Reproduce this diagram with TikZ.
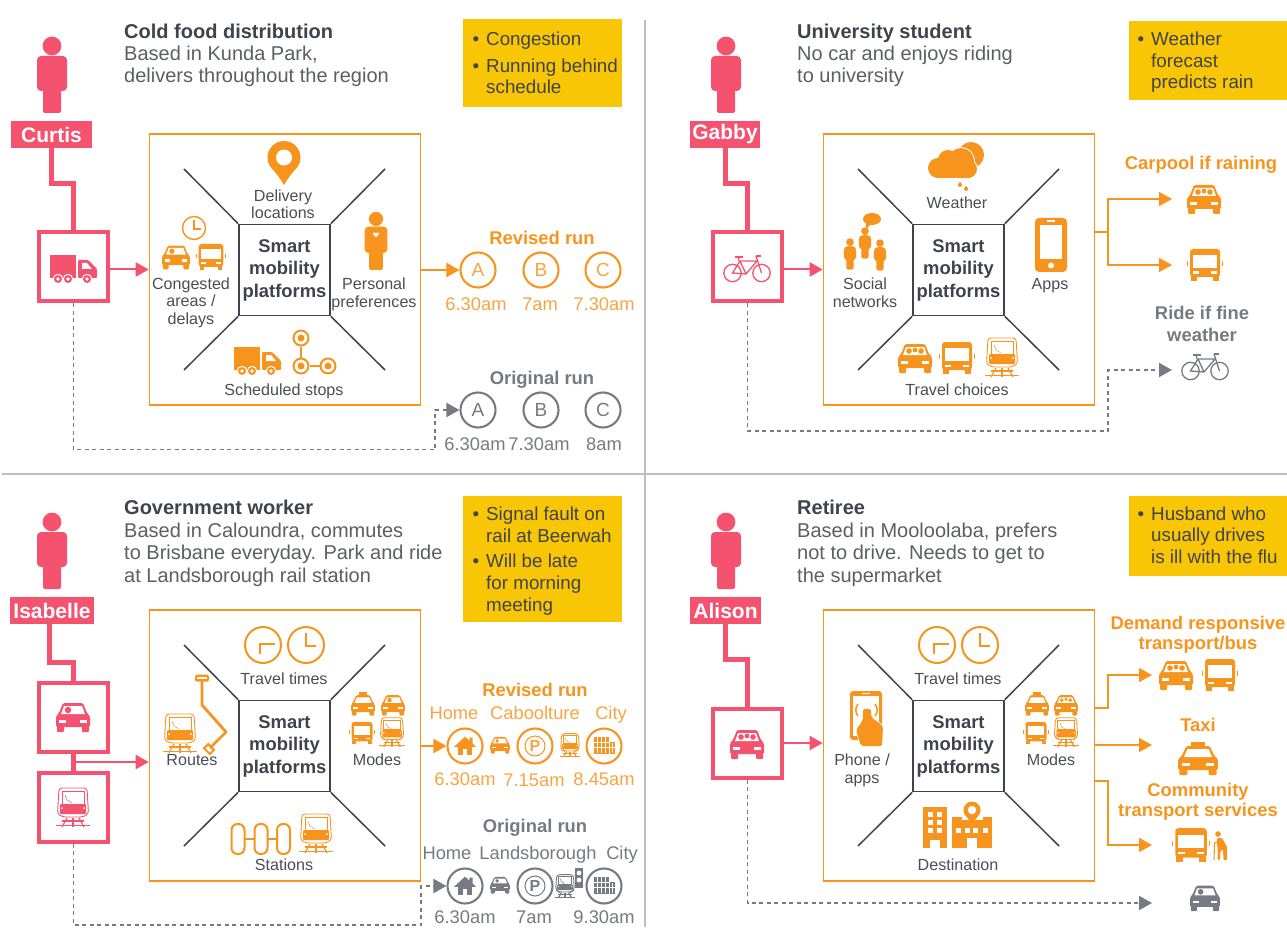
\documentclass[tikz,border=0pt]{standalone}
\usepackage{fontspec}
\setmainfont{Liberation Sans}
\usetikzlibrary{arrows.meta}
\definecolor{pk}{HTML}{F4526E}
\definecolor{orn}{HTML}{F7941E}
\definecolor{gy}{HTML}{777983}
\definecolor{dk}{HTML}{40434E}
\definecolor{bodyc}{HTML}{5C5E66}
\definecolor{labc}{HTML}{4B4D55}
\definecolor{yl}{HTML}{F9C606}
\definecolor{dv}{HTML}{BCBEC3}
\newcommand\fzA{\fontsize{20}{22.4}\selectfont}
\newcommand\fzL{\fontsize{16.1}{17.2}\selectfont}
\newcommand\fzH{\fontsize{18.4}{22.5}\selectfont\bfseries}
\newcommand\fzT{\fontsize{18.3}{21}\selectfont}
\newcommand\fzY{\fontsize{18.8}{21.6}\selectfont}
\newcommand\fzR{\fontsize{18.4}{21}\selectfont\bfseries}
\newcommand\carbase{%
  \fill[rounded corners=1.5pt] (-10,-14)--(10,-14)--(14,-4)--(17,-1)--(17,10)--(-17,10)--(-17,-1)--(-14,-4)--cycle;
  \fill[rounded corners=1pt] (-16,9) rectangle (-9,15);
  \fill[rounded corners=1pt] (9,9) rectangle (16,15);
  \fill[white] (-9,-11)--(9,-11)--(12,-3)--(-12,-3)--cycle;
  \fill[white] (-14,3) rectangle (-7,6);
  \fill[white] (7,3) rectangle (14,6);}
\tikzset{
  every picture/.style={line join=miter},
  person/.pic={
    \fill (0,-29) circle (9.4);
    \fill[rounded corners=4pt] (-15,-19) rectangle (15,16);
    \fill[rounded corners=2pt] (-9,5) rectangle (9,38);},
  car/.pic={\carbase \fill (-5,-7) circle (3.2);},
  carpool/.pic={\carbase \fill (-6,-7) circle (2.8); \fill (0,-8) circle (2.4); \fill (6,-7) circle (2.8);},
  taxi/.pic={
    \fill (-6,-18) rectangle (6,-14);
    \carbase},
  bus/.pic={
    \fill[rounded corners=3pt] (-15,-16) rectangle (15,12);
    \fill (-14,11) rectangle (-8,16);
    \fill (8,11) rectangle (14,16);
    \fill[white] (-12,-10) rectangle (12,3);
    \fill[white] (-12,6.5) rectangle (-6,9);
    \fill[white] (6,6.5) rectangle (12,9);
    \fill (-18,-4) rectangle (-17,1);
    \fill (17,-4) rectangle (18,1);},
  train/.pic={
    \draw[line width=.9pt,rounded corners=3pt] (-14,-19) -- (14,-19) -- (15.5,7) -- (10,10) -- (-10,10) -- (-15.5,7) -- cycle;
    \draw[line width=.6pt] (-11,-16) rectangle (11,-3);
    \draw[line width=.5pt] (-8,-12) -- (-6,-7) -- (-1,-4);
    \fill[rounded corners=1pt] (-13,-3) rectangle (13,7);
    \fill[white] (-11,1) circle (1);
    \fill[white] (11,1) circle (1);
    \draw[line width=1.2pt] (-11,14) -- (11,14);
    \draw[line width=1.2pt] (-17,18.5) -- (17,18.5);
    \draw[line width=1.2pt] (-6,11) -- (-11,20);
    \draw[line width=1.2pt] (6,11) -- (11,20);
    \draw[line width=1.2pt] (0,11) -- (0,20);},
  truck/.pic={
    \fill (-23,-13) rectangle (3,10);
    \fill[rounded corners=1pt] (5,-8) -- (15,-8) -- (24,1) -- (24,10) -- (5,10) -- cycle;
    \fill[white] (9,-5) -- (14,-5) -- (19,1) -- (9,1) -- cycle;
    \foreach \wx in {-15,-5,14}{
      \fill[white] (\wx,11) circle (5.2);
      \fill (\wx,11) circle (4);
      \fill[white] (\wx,11) circle (1.8);}},
  bike/.pic={
    \begin{scope}[line width=1.3pt]
    \draw (-14.5,4) circle (8.7);
    \draw (14.5,4) circle (8.7);
    \draw (-14.5,4) -- (-7,-8) -- (10,-8) -- (-1,5) -- cycle;
    \draw (-7,-8) -- (-1,5);
    \draw (9,-13) -- (14.5,4);
    \draw (9,-13) -- (14,-13);
    \draw (-8,-8) -- (-9,-12);
    \draw[line width=1.7pt] (-12,-12) -- (-4,-12);
    \end{scope}},
  clocka/.pic={
    \draw[line width=2pt] (0,0) circle (18);
    \draw[line width=2pt] (-3,9) -- (-3,-1) -- (12,-1);},
  clockb/.pic={
    \draw[line width=2pt] (0,0) circle (18);
    \draw[line width=2pt] (0,-12) -- (0,1) -- (10,1);},
  clocksm/.pic={
    \draw[line width=1.4pt] (0,0) circle (11.5);
    \draw[line width=1.4pt] (0,-8) -- (0,1) -- (7,1);},
  pin/.pic={
    \fill (0,-6.5) circle (16.5);
    \fill (0,21) .. controls (-5,12) and (-14,3) .. (-16,-3) -- (16,-3) .. controls (14,3) and (5,12) .. (0,21);
    \fill[white] (0,-6.5) circle (8);},
  cloud/.pic={
    \fill (16,-10) circle (13);
    \begin{scope}[white,line width=2pt]
    \draw (-7,-5) circle (10); \draw (6,-4) circle (13); \draw (13,4) circle (9);
    \end{scope}
    \fill (-17,3) circle (10);
    \fill (-7,-5) circle (10);
    \fill (6,-4) circle (13);
    \fill (13,4) circle (9);
    \fill (-17,3) rectangle (15,13);
    \fill (5,20) circle (2); \fill (5,16.5) -- (3.2,19.5) -- (6.8,19.5) -- cycle;
    \fill (11,24) circle (2); \fill (11,20.5) -- (9.2,23.5) -- (12.8,23.5) -- cycle;},
  phone/.pic={
    \fill[rounded corners=4pt] (-16,-27) rectangle (16,27);
    \fill[white] (-11,-20) rectangle (11,14);
    \fill[white] (-4,-24.5) rectangle (4,-23.2);
    \fill[white] (0,20.5) circle (3);},
  social/.pic={
    \pic[scale=.41] at (-15,11) {person};
    \pic[scale=.41] at (0,0) {person};
    \pic[scale=.41] at (15,12) {person};
    \fill (7,-24) ellipse (9 and 6);
    \fill (1,-22) -- (1,-14) -- (7,-20) -- cycle;},
  handphone/.pic={
    \fill[rounded corners=3pt] (-16,-27) rectangle (16,22);
    \fill[white] (-13,-22) rectangle (13,18);
    \fill[white] (-4,-25) rectangle (4,-24);
    \draw[line width=1.5pt] (-8,-14) .. controls (-11,-10) and (-11,-6) .. (-8,-2);
    \draw[line width=1.5pt] (9,-14) .. controls (12,-10) and (12,-6) .. (9,-2);
    \draw[white,line width=1.4pt,rounded corners=2pt] (-3,-9) -- (-3,2) -- (-10,12) -- (-5,28) -- (16,28) -- (17,8) -- (5,-1) -- (5,-9) -- cycle;
    \fill[rounded corners=2pt] (-3,-9) -- (-3,2) -- (-10,12) -- (-5,28) -- (16,28) -- (17,8) -- (5,-1) -- (5,-9) -- cycle;},
  home/.pic={
    \fill (-13,1) -- (0,-11) -- (5,-6.5) -- (5,-10) -- (9,-10) -- (9,-3) -- (13,1) -- cycle;
    \fill (-8.5,0) rectangle (8.5,11);
    \fill[white] (-2.5,4) rectangle (2.5,11);},
  city/.pic={
    \fill (-12,-10) rectangle (6,11);
    \fill (7,-4) rectangle (13,11);
    \foreach \wx in {-8,-3,2}{\draw[white,line width=.8pt] (\wx,-10) -- (\wx,9);}
    \foreach \wy in {-3,3}{\draw[white,line width=.8pt] (-12,\wy) -- (6,\wy);}
    \draw[white,line width=.8pt] (10,-2) -- (10,9);
    \draw[white,line width=.8pt] (7,3) -- (13,3);},
  pilltrio/.pic={
    \begin{scope}[line width=2pt]
    \draw[rounded corners=6pt] (-14.5,-15) rectangle (-1.5,15);
    \draw[rounded corners=6pt] (8.5,-15) rectangle (21.5,15);
    \draw[rounded corners=6pt] (31,-15) rectangle (44,15);
    \draw (-1.5,0) -- (8.5,0);
    \draw (21.5,0) -- (31,0);
    \end{scope}},
  route/.pic={
    \draw[line width=2.8pt,line join=round] (0,0) -- (0,27) -- (24,54) -- (8,70);
    \fill[rounded corners=1.5pt] (-7,-3.5) rectangle (7,3.5);
    \fill[white] (-5,-1.5) rectangle (5,.8);
    \draw[line width=2pt,rotate around={-45:(7,71)}] (3,68) rectangle (11,74);},
  tower/.pic={
    \fill (-18,-16) rectangle (6,25);
    \foreach \wx in {-13.3,-4}{\foreach \wy in {-11,-3,5}{\fill[white] (\wx,\wy) rectangle +(5,5);}}
    \fill[white] (-11,17) rectangle (-1,25);
    \fill (11,-6) rectangle (51,25);
    \foreach \wx in {15,24,32,42}{\fill[white] (\wx,5) rectangle +(4.6,5);}
    \fill[white] (26,15) rectangle (36,25);
    \fill[white] (31,-13) circle (10.5);
    \fill[white] (20.5,-13) rectangle (41.5,-3);
    \fill (31,1) .. controls (29,-3) and (22.5,-8) .. (22.5,-13) -- (39.5,-13) .. controls (39.5,-8) and (33,-3) .. (31,1);
    \fill (31,-13) circle (8.5);
    \fill[white] (31,-13) circle (4.2);},
  oldman/.pic={
    \fill (0,-12) circle (2.8);
    \fill[rounded corners=1pt] (-1,-8) -- (4,-8) -- (9,1) -- (9,14) -- (5.5,14) -- (5,3) -- (2,6) -- (2,14) -- (-.5,14) -- (-.5,1) -- (-1,-2) -- cycle;
    \draw[line width=1.1pt] (-3.5,-3) -- (1,-5);
    \draw[line width=1.1pt] (-3.5,-3) -- (-4,14);},
  light/.pic={
    \fill (-4,-10) rectangle (4,10);
    \fill[white] (0,-5) circle (2.4);
    \fill[white] (0,2) circle (2.4);},
  hubbox/.style={draw=orn,line width=1.6pt,minimum size=271pt,inner sep=0},
  hubcore/.style={draw=dk,line width=1.6pt,minimum size=91pt,inner sep=0,align=center,font=\fzH,text=dk},
  spoke/.style={draw=dk,line width=1.5pt},
  tag/.style={fill=pk,text=white,font=\fontsize{21}{24}\selectfont\bfseries,inner sep=0,minimum height=27pt},
  modebox/.style={draw=pk,line width=4pt,minimum size=69pt,inner sep=0},
  link/.style={draw=pk,line width=5pt},
  pkarrow/.style={draw=pk,line width=2pt,-{Triangle[length=13pt,width=14pt]}},
  orarrow/.style={draw=orn,line width=1.7pt,-{Triangle[length=13pt,width=14pt]}},
  grarrow/.style={draw=gy,line width=1.9pt,dash pattern=on 4pt off 3.5pt,-{Triangle[length=13pt,width=14pt]}},
  headblock/.style={anchor=base west,inner sep=0,align=left,font=\fzA,text=bodyc},
  lab/.style={anchor=base,inner sep=0,align=center,font=\fzL,text=labc},
  note/.style={fill=yl,inner sep=0,anchor=north west},
  notetext/.style={anchor=base west,inner sep=0,align=left,font=\fzY,text=dk,yshift=-1pt},
  runorn/.style={anchor=base,inner sep=0,align=center,font=\fzR,text=orn},
  rungry/.style={anchor=base,inner sep=0,align=center,font=\fzR,text=gy},
  timeorn/.style={anchor=base,inner sep=0,font=\fzT,text=orn!85!white},
  timegry/.style={anchor=base,inner sep=0,font=\fzT,text=gy},
  stoporn/.style={circle,draw=orn,line width=2.1pt,minimum size=35pt,inner sep=0,font=\fontsize{19}{21}\selectfont,text=orn!85!white},
  stopgry/.style={circle,draw=gy,line width=2.1pt,minimum size=35pt,inner sep=0,font=\fontsize{19}{21}\selectfont,text=gy},
}
\newcommand\hub[3]{%
  \begin{scope}[shift={(#2,#3)}]
    \node[hubbox] (#1 hub) at (285,269.5) {};
    \node[hubcore] (#1 core) at (284.5,270) {Smart\\mobility\\platforms};
    \draw[spoke] (#1 core.north west) -- (184,169);
    \draw[spoke] (#1 core.north east) -- (385,169);
    \draw[spoke] (#1 core.south west) -- (184,370);
    \draw[spoke] (#1 core.south east) -- (385,370);
  \end{scope}}
\begin{document}
\begin{tikzpicture}[x=1pt,y=-1pt]
\useasboundingbox (0,0) rectangle (1287,933);
% dividers
\draw[dv,line width=1.7pt] (645,20) -- (645,927);
\draw[dv,line width=1.7pt] (2,474) -- (1287,474);

% ============ Curtis
\pic[color=pk] at (52,75) {person};
\node[tag,minimum width=81pt] (ctag) at (51.5,134.5) {Curtis};
\node[headblock] (chead) at (124,83) {\textbf{\textcolor{dk}{Cold food distribution}}\\Based in Kunda Park,\\delivers throughout the region};
\node[note,minimum width=159pt,minimum height=88pt] (cnote) at (463,19) {};
\node[notetext] (cn1) at (486,45) {\llap{•\hspace{7pt}}Congestion};
\node[notetext] (cn2) at (486,93) {\llap{•\hspace{7pt}}Running behind\\schedule};
\node[modebox] (cbox) at (73.5,266.5) {};
\pic[color=pk] at (73,268) {truck};
\draw[link] (ctag.south) -- ++(0,35) -| (cbox.north);
\hub{c}{0}{0}
\draw[pkarrow] (cbox.east |- c hub.west) -- (c hub.west);
\pic[color=orn] at (284,164) {pin};
\node[lab] (cl1) at (283,219) {Delivery\\locations};
\pic[color=orn] at (194,228) {clocksm};
\pic[color=orn,scale=.82] at (176,257) {car};
\pic[color=orn,scale=.82] at (211,257) {bus};
\node[lab] (cl2) at (191,324) {Congested\\areas /\\delays};
\pic[color=orn,scale=.76] at (376,241) {person};
\fill[white] (376,237.5) -- (373,234) .. controls (372.5,232) and (375.5,231.5) .. (376,233.5) .. controls (376.5,231.5) and (379.5,232) .. (379,234) -- cycle;
\node[lab] (cl3) at (374,307) {Personal\\preferences};
\pic[color=orn] at (257,360) {truck};
\node[circle,draw=orn,line width=2pt,minimum size=15pt,inner sep=0] (cs1) at (301,338) {};
\node[circle,draw=orn,line width=2pt,minimum size=15pt,inner sep=0] (cs2) at (301,366) {};
\node[circle,draw=orn,line width=2pt,minimum size=15pt,inner sep=0] (cs3) at (328,366) {};
\fill[orn] (301,338) circle (3.5); \fill[orn] (301,366) circle (3.5); \fill[orn] (328,366) circle (3.5);
\draw[orn,line width=2pt] (cs1) -- (cs2); \draw[orn,line width=2pt] (cs2) -- (cs3);
\node[lab] (cl4) at (284,395) {Scheduled stops};
\node[runorn] (crev) at (542,245) {Revised run};
\node[stoporn] (crA) at (478,270) {A};
\node[stoporn] (crB) at (541,270) {B};
\node[stoporn] (crC) at (603,270) {C};
\node[timeorn] (crt1) at (476,310) {6.30am};
\node[timeorn] (crt2) at (540,310) {7am};
\node[timeorn] (crt3) at (604,310) {7.30am};
\node[rungry] (corg) at (542,384) {Original run};
\node[stopgry] (coA) at (478,410) {A};
\node[stopgry] (coB) at (541,410) {B};
\node[stopgry] (coC) at (603,410) {C};
\node[timegry] (cot1) at (475,450) {6.30am};
\node[timegry] (cot2) at (539,450) {7.30am};
\node[timegry] (cot3) at (604,450) {8am};
\draw[orarrow] (c hub.east |- crA.west) -- (crA.west);
\coordinate (cturn) at (435,449.5);
\draw[grarrow] (cbox.south) |- (cturn) |- (coA.west);

% ============ Gabby
\pic[color=pk] at (726,75) {person};
\node[tag,minimum width=70pt] (gtag) at (725,134.5) {Gabby};
\node[headblock] (ghead) at (797,83) {\textbf{\textcolor{dk}{University student}}\\No car and enjoys riding\\to university};
\node[note,minimum width=158pt,minimum height=79pt] (gnote) at (1129,21) {};
\node[notetext] (gn1) at (1151,88) {\llap{•\hspace{7pt}}Weather\\forecast\\predicts rain};
\node[modebox] (gbox) at (747.5,266.5) {};
\pic[color=pk] at (747,269) {bike};
\draw[link] (gtag.south) -- ++(0,35) -| (gbox.north);
\hub{g}{674}{0}
\draw[pkarrow] (gbox.east |- g hub.west) -- (g hub.west);
\pic[color=orn] at (955,165) {cloud};
\node[lab] (gl1) at (957,209) {Weather};
\pic[color=orn] at (865,243) {social};
\node[lab] (gl2) at (865,307) {Social\\networks};
\pic[color=orn] at (1051,245) {phone};
\node[lab] (gl3) at (1050,290) {Apps};
\pic[color=orn] at (915,358) {carpool};
\pic[color=orn] at (957,358) {bus};
\pic[color=orn] at (1002,357) {train};
\node[lab] (gl4) at (957,395) {Travel choices};
\node[runorn] (gcar) at (1201,170) {Carpool if raining};
\pic[color=orn] at (1204,199) {carpool};
\pic[color=orn] at (1205,265) {bus};
\node[rungry] (gride) at (1202,341) {Ride if fine\\[.5pt]weather};
\pic[color=gy] at (1205,367) {bike};
\coordinate (gout) at (1095,232);
\coordinate (gjoin) at (1108,232);
\coordinate (gcartip) at (1172,199);
\coordinate (gbustip) at (1172,265);
\coordinate (gbiketip) at (1172,370);
\coordinate (gturn) at (1108,431);
\draw[orarrow] (gout) -- (gjoin) |- (gcartip);
\draw[orarrow] (gjoin) |- (gbustip);
\draw[grarrow] (gbox.south) |- (gturn) |- (gbiketip);

% ============ Isabelle
\pic[color=pk] at (52,551) {person};
\node[tag,minimum width=84pt] (itag) at (52,610.5) {Isabelle};
\node[headblock] (ihead) at (124,582) {\textbf{\textcolor{dk}{Government worker}}\\Based in Caloundra, commutes\\to Brisbane everyday. Park and ride\\at Landsborough rail station};
\node[note,minimum width=159pt,minimum height=126pt] (inote) at (463,496) {};
\node[notetext] (in1) at (486,541) {\llap{•\hspace{7pt}}Signal fault on\\rail at Beerwah};
\node[notetext] (in2) at (486,610) {\llap{•\hspace{7pt}}Will be late\\for morning\\meeting};
\node[modebox] (icarbox) at (73.5,717) {};
\node[modebox] (itrainbox) at (73.5,807) {};
\pic[color=pk] at (73,717) {car};
\pic[color=pk] at (73,807) {train};
\coordinate (ijog) at (49,662);
\draw[link] (itag.south -| ijog) -- (ijog) -| (icarbox.north);
\draw[link] (icarbox.south) -- (itrainbox.north);
\hub{i}{0}{476}
\coordinate (istart) at (73,762);
\draw[pkarrow] (istart) -- (i hub.west |- istart);
\pic[color=orn] at (263,645) {clocka};
\pic[color=orn] at (306,645) {clockb};
\node[lab] (il1) at (284,684) {Travel times};
\pic[color=orn] at (180,733) {train};
\pic[color=orn] at (202,678) {route};
\node[lab] (il2) at (192,765) {Routes};
\pic[color=orn,scale=.7] at (363,705) {taxi};
\pic[color=orn,scale=.7] at (393,705) {car};
\pic[color=orn,scale=.7] at (362,733) {bus};
\pic[color=orn,scale=.75] at (392,732) {train};
\node[lab] (il3) at (377,765) {Modes};
\pic[color=orn] at (246,839) {pilltrio};
\pic[color=orn] at (316,833) {train};
\node[lab] (il4) at (284,870) {Stations};
\node[runorn] (irev) at (535,696) {Revised run};
\node[anchor=base,inner sep=0,font=\fzT,text=orn!85!white] (irh) at (454,719) {Home};
\node[anchor=base,inner sep=0,font=\fzT,text=orn!85!white] (irc) at (535,719) {Caboolture};
\node[anchor=base,inner sep=0,font=\fzT,text=orn!85!white] (irk) at (611,719) {City};
\node[stoporn] (irA) at (465,746) {};
\node[stoporn] (irB) at (535,746) {\fontsize{16}{18}\selectfont\bfseries P};
\node[stoporn] (irC) at (604,746) {};
\draw[orn,line width=1pt] (irB) circle (10);
\pic[color=orn,scale=.85] at (465,746) {home};
\pic[color=orn,scale=.58] at (500,745) {car};
\pic[color=orn,scale=.6] at (570,745) {train};
\pic[color=orn,scale=.85] at (604,745) {city};
\node[timeorn] (irt1) at (465,785) {6.30am};
\node[timeorn] (irt2) at (534,786) {7.15am};
\node[timeorn] (irt3) at (604,785) {8.45am};
\node[rungry] (iorg) at (535,832) {Original run};
\node[anchor=base,inner sep=0,font=\fzT,text=gy] (ioh) at (447,859) {Home};
\node[anchor=base,inner sep=0,font=\fzT,text=gy] (iol) at (538,859) {Landsborough};
\node[anchor=base,inner sep=0,font=\fzT,text=gy] (iok) at (622,859) {City};
\node[stopgry] (ioA) at (465,886) {};
\node[stopgry] (ioB) at (535,886) {\fontsize{16}{18}\selectfont\bfseries P};
\node[stopgry] (ioC) at (604,886) {};
\draw[gy,line width=1pt] (ioB) circle (10);
\pic[color=gy,scale=.85] at (465,886) {home};
\pic[color=gy,scale=.58] at (500,885) {car};
\pic[color=gy,scale=.6] at (565,886) {train};
\pic[color=gy] at (579,878) {light};
\pic[color=gy,scale=.85] at (604,885) {city};
\node[timegry] (iot1) at (465,923) {6.30am};
\node[timegry] (iot2) at (534,923) {7am};
\node[timegry] (iot3) at (604,923) {9.30am};
\draw[orarrow] (i hub.east |- irA.west) -- (irA.west);
\coordinate (iturn) at (421,925);
\coordinate (iback) at (421,886);
\draw[grarrow] (itrainbox.south) |- (iturn) -- (iback) -- (ioA.west);

% ============ Alison
\pic[color=pk] at (726,551) {person};
\node[tag,minimum width=71pt] (atag) at (725.5,610.5) {Alison};
\node[headblock] (ahead) at (797,582) {\textbf{\textcolor{dk}{Retiree}}\\Based in Mooloolaba, prefers\\not to drive. Needs to get to\\the supermarket};
\node[note,minimum width=158pt,minimum height=80pt] (anote) at (1129,496) {};
\node[notetext] (an1) at (1151,562.5) {\llap{•\hspace{7pt}}Husband who\\usually drives\\is ill with the flu};
\node[modebox] (abox) at (747.5,743) {};
\pic[color=pk] at (747,744) {carpool};
\draw[link] (atag.south) -- ++(0,35) -| (abox.north);
\hub{a}{674}{476}
\draw[pkarrow] (abox.east) -- (a hub.west |- abox.east);
\pic[color=orn] at (937,645) {clocka};
\pic[color=orn] at (980,645) {clockb};
\node[lab] (al1) at (958,684) {Travel times};
\pic[color=orn] at (866,718) {handphone};
\node[lab] (al2) at (862,783) {Phone /\\apps};
\pic[color=orn,scale=.7] at (1037,705) {taxi};
\pic[color=orn,scale=.7] at (1066,705) {carpool};
\pic[color=orn,scale=.7] at (1036,733) {bus};
\pic[color=orn,scale=.75] at (1066,732) {train};
\node[lab] (al3) at (1051,765) {Modes};
\pic[color=orn] at (941,823) {tower};
\node[lab] (al4) at (958,870) {Destination};
\node[runorn] (adem) at (1198,649) {Demand responsive\\[-1pt]transport/bus};
\pic[color=orn] at (1176,675) {carpool};
\pic[color=orn] at (1220,675) {bus};
\node[runorn] (ataxi) at (1198,731) {Taxi};
\pic[color=orn,xscale=1.17] at (1198,760) {taxi};
\node[runorn] (acom) at (1198,816) {Community\\[-1pt]transport services};
\pic[color=orn,scale=1.05] at (1191,845) {bus};
\pic[color=orn] at (1218,846) {oldman};
\pic[color=gy,scale=.88] at (1205,898) {car};
\coordinate (aout1) at (1094,708);
\coordinate (aj1) at (1108,708);
\coordinate (atip1) at (1152,675);
\coordinate (aout2) at (1094,745);
\coordinate (atip2) at (1152,745);
\coordinate (aout3) at (1094,781);
\coordinate (aj3) at (1108,781);
\coordinate (atip3) at (1152,845);
\coordinate (agrey) at (1152,903);
\draw[orarrow] (aout1) -- (aj1) |- (atip1);
\draw[orarrow] (aout2) -- (atip2);
\draw[orarrow] (aout3) -- (aj3) |- (atip3);
\draw[grarrow] (abox.south) |- (agrey);
\end{tikzpicture}
\end{document}
